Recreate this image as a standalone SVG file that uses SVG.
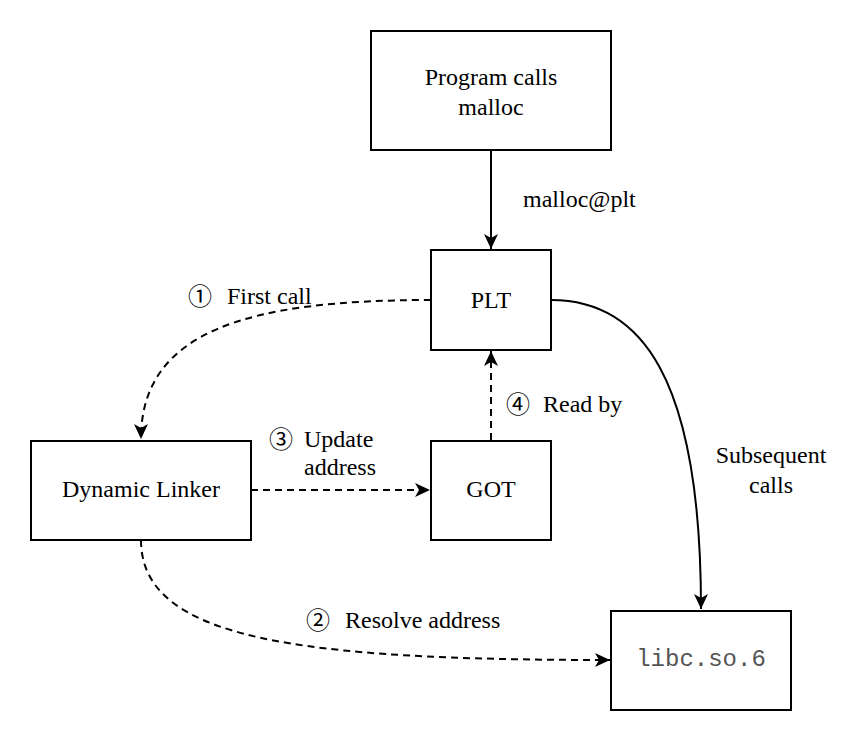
<svg xmlns="http://www.w3.org/2000/svg" width="862" height="744" viewBox="0 0 862 744">
<style>
.box{fill:#fff;stroke:#000;stroke-width:2}
.t{font-family:"Liberation Serif","Times New Roman",serif;font-size:24px;fill:#000}
.c{font-family:"Noto Sans CJK JP","DejaVu Sans",sans-serif;font-size:24px;fill:#000}
.mono{font-family:"Liberation Mono","Courier New",monospace;font-size:24px;fill:#555}
.e{fill:none;stroke:#000;stroke-width:2}
.d{stroke-dasharray:7 5}
</style>
<defs>
<marker id="arr" markerUnits="userSpaceOnUse" markerWidth="16" markerHeight="14" viewBox="0 0 16 14" refX="15" refY="7" orient="auto">
<path d="M0,0 L15,7 L0,14 L4,7 Z" fill="#000"/>
</marker>
</defs>
<rect width="862" height="744" fill="#fff"/>
<g id="connectors">
<path class="e" d="M491,150 L491,249" marker-end="url(#arr)"/>
<path class="e d" d="M431,300 C250,300 141,330 141,439" marker-end="url(#arr)"/>
<path class="e d" d="M141,540 C141,640 300,660 610,660" marker-end="url(#arr)"/>
<path class="e d" d="M251,490 L430,490" marker-end="url(#arr)"/>
<path class="e d" d="M491,440 L491,351" marker-end="url(#arr)"/>
<path class="e" d="M551,300 C640,300 701,375 701,609" marker-end="url(#arr)"/>
<text class="t" x="523" y="207">malloc@plt</text>
<text class="c" x="188" y="305">①</text>
<text class="t" x="227" y="304">First call</text>
<text class="c" x="306" y="629">②</text>
<text class="t" x="345" y="628">Resolve address</text>
<text class="c" x="269" y="448">③</text>
<text class="t" x="304" y="447">Update</text>
<text class="t" x="304" y="475">address</text>
<text class="c" x="506" y="413">④</text>
<text class="t" x="543" y="412">Read by</text>
<text class="t" x="771" y="463" text-anchor="middle">Subsequent</text>
<text class="t" x="771" y="493" text-anchor="middle">calls</text>
</g>
<g id="program">
<rect class="box" x="371" y="31" width="240" height="119"/>
<text class="t" x="491" y="85" text-anchor="middle">Program calls</text>
<text class="t" x="491" y="115" text-anchor="middle">malloc</text>
</g>
<g id="plt">
<rect class="box" x="431" y="250" width="120" height="100"/>
<text class="t" x="491" y="308" text-anchor="middle">PLT</text>
</g>
<g id="dynamic-linker">
<rect class="box" x="31" y="441" width="220" height="99"/>
<text class="t" x="141" y="497" text-anchor="middle">Dynamic Linker</text>
</g>
<g id="got">
<rect class="box" x="431" y="441" width="120" height="99"/>
<text class="t" x="491" y="497" text-anchor="middle">GOT</text>
</g>
<g id="libc">
<rect class="box" x="611" y="611" width="180" height="99"/>
<text class="mono" x="701" y="666" text-anchor="middle">libc.so.6</text>
</g>
</svg>
